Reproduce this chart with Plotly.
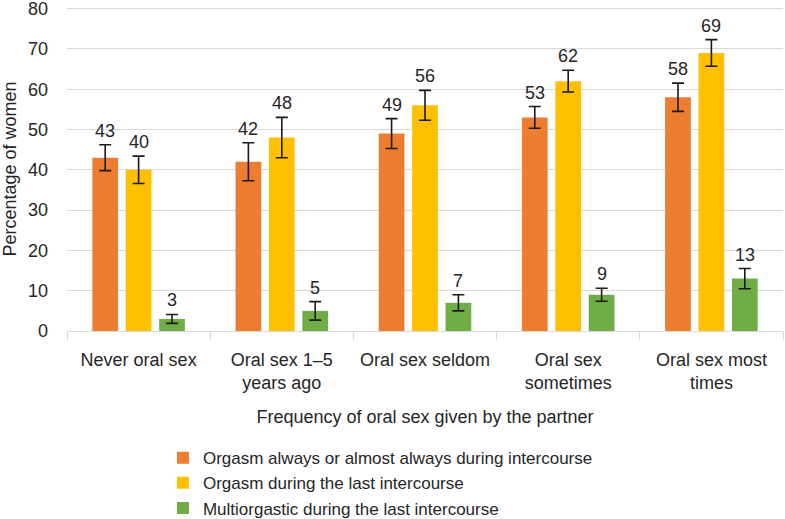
import plotly.graph_objects as go

categories = ["Never oral sex", "Oral sex 1–5<br>years ago", "Oral sex seldom",
              "Oral sex<br>sometimes", "Oral sex most<br>times"]
series_names = ["Orgasm always or almost always during intercourse",
                "Orgasm during the last intercourse",
                "Multiorgastic during the last intercourse"]
orgasm_always = [43, 42, 49, 53, 58]
orgasm_last = [40, 48, 56, 62, 69]
multi_last = [3, 5, 7, 9, 13]
err_always = [3.2, 4.7, 3.7, 2.7, 3.5]
err_last = [3.4, 5.0, 3.7, 2.7, 3.3]
err_multi = [1.1, 2.3, 2.0, 1.6, 2.5]
colors = ["#ED7D31", "#FFC000", "#70AD47"]

FONT = "Liberation Sans, Arial, sans-serif"
TXT = "#262626"
FS = 18

fig = go.Figure()
values = [orgasm_always, orgasm_last, multi_last]
errors = [err_always, err_last, err_multi]
for name, vals, errs, col in zip(series_names, values, errors, colors):
    fig.add_trace(go.Bar(
        x=categories, y=vals, name=name, marker=dict(color=col, line=dict(width=0)),
        error_y=dict(type="data", array=errs, visible=True, color="#1a1a1a",
                     thickness=1.6, width=6),
    ))

shifts = [-33.4, 0, 33.4]
for vals, errs, sh in zip(values, errors, shifts):
    for c, v, e in zip(categories, vals, errs):
        fig.add_annotation(x=c, y=v + e, text=str(v), showarrow=False,
                           xshift=sh, yshift=2, yanchor="bottom",
                           font=dict(family=FONT, size=FS, color=TXT))

fig.update_layout(
    width=785, height=519,
    margin=dict(l=67, r=2, t=7, b=188, autoexpand=False),
    paper_bgcolor="white", plot_bgcolor="white",
    barmode="group", bargap=0.30, bargroupgap=0.23,
    font=dict(family=FONT, size=FS, color=TXT),
    showlegend=True,
    legend=dict(orientation="v", x=0.134, xanchor="left", y=-0.337, yanchor="top",
                font=dict(family=FONT, size=17, color=TXT),
                itemwidth=30, tracegroupgap=0, bgcolor="rgba(0,0,0,0)"),
    xaxis=dict(
        type="category", showgrid=False, showline=True, linecolor="#d9d9d9",
        linewidth=1, ticks="outside", tickson="boundaries", ticklen=8,
        tickcolor="#d9d9d9", automargin=False, ticklabelstandoff=12,
        tickfont=dict(family=FONT, size=FS, color=TXT),
        title=dict(text="Frequency of oral sex given by the partner", standoff=18,
                   font=dict(family=FONT, size=FS, color=TXT)),
    ),
    yaxis=dict(
        range=[0, 80.4], tickvals=[0, 10, 20, 30, 40, 50, 60, 70, 80],
        showgrid=True, gridcolor="#d9d9d9", gridwidth=1,
        zeroline=False, showline=False, automargin=True, ticklabelstandoff=18,
        ticklabeloverflow="allow",
        tickfont=dict(family=FONT, size=FS, color=TXT),
        title=dict(text="Percentage of women", standoff=9,
                   font=dict(family=FONT, size=FS, color=TXT)),
    ),
)

fig.write_html("out.html", config={"displayModeBar": False},
               post_script="document.body.style.margin='0';")
